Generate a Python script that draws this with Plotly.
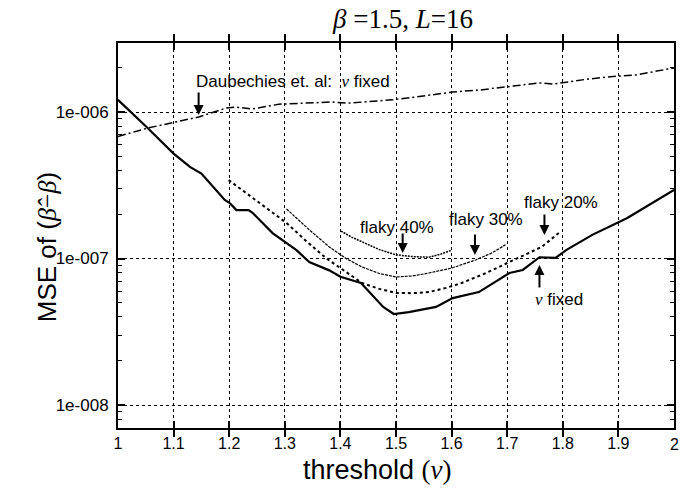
import plotly.graph_objects as go

# ---------------- data ----------------
nu_fixed_x = [1.0, 1.05, 1.10, 1.13, 1.15, 1.192, 1.201, 1.213, 1.235, 1.242, 1.278, 1.299,
              1.321, 1.344, 1.38, 1.40, 1.437, 1.477, 1.496, 1.523, 1.572, 1.602, 1.649,
              1.704, 1.728, 1.758, 1.787, 1.806, 1.853, 1.916, 2.0]
nu_fixed_y = [1.21e-6, 8.0e-7, 5.2e-7, 4.2e-7, 3.8e-7, 2.51e-7, 2.39e-7, 2.14e-7, 2.14e-7,
              2.05e-7, 1.49e-7, 1.30e-7, 1.14e-7, 9.46e-8, 8.3e-8, 7.5e-8, 6.8e-8, 4.67e-8,
              4.18e-8, 4.31e-8, 4.67e-8, 5.37e-8, 5.9e-8, 7.96e-8, 8.35e-8, 1.02e-7, 1.01e-7,
              1.14e-7, 1.45e-7, 1.89e-7, 2.94e-7]

daub_x = [1.0, 1.054, 1.145, 1.195, 1.211, 1.242, 1.289, 1.337, 1.384, 1.414, 1.493, 1.532,
          1.602, 1.649, 1.697, 1.758, 1.783, 1.846, 1.900, 1.932, 2.0]
daub_y = [6.8e-7, 7.78e-7, 9.24e-7, 1.065e-6, 1.08e-6, 1.05e-6, 1.13e-6, 1.15e-6, 1.17e-6,
          1.15e-6, 1.21e-6, 1.26e-6, 1.37e-6, 1.41e-6, 1.48e-6, 1.58e-6, 1.55e-6, 1.68e-6,
          1.76e-6, 1.79e-6, 2.0e-6]

flaky20_x = [1.199, 1.25, 1.303, 1.34, 1.375, 1.40, 1.439, 1.47, 1.50, 1.53, 1.559, 1.59,
             1.618, 1.66, 1.703, 1.762, 1.797]
flaky20_y = [3.43e-7, 2.45e-7, 1.75e-7, 1.3e-7, 1.0e-7, 8.6e-8, 6.8e-8, 6.2e-8, 5.82e-8,
             5.8e-8, 5.9e-8, 6.3e-8, 6.8e-8, 7.9e-8, 9.46e-8, 1.2e-7, 1.54e-7]

flaky30_x = [1.303, 1.344, 1.38, 1.41, 1.439, 1.47, 1.50, 1.53, 1.559, 1.60, 1.643, 1.67, 1.697]
flaky30_y = [2.18e-7, 1.57e-7, 1.2e-7, 1.0e-7, 8.75e-8, 7.9e-8, 7.48e-8, 7.6e-8, 7.96e-8,
             8.6e-8, 9.77e-8, 1.08e-7, 1.24e-7]

flaky40_x = [1.401, 1.42, 1.439, 1.47, 1.50, 1.53, 1.559, 1.58, 1.60]
flaky40_y = [1.54e-7, 1.4e-7, 1.30e-7, 1.15e-7, 1.06e-7, 1.03e-7, 1.02e-7, 1.07e-7, 1.14e-7]

x_ticks = [1.0, 1.1, 1.2, 1.3, 1.4, 1.5, 1.6, 1.7, 1.8, 1.9, 2.0]
x_tick_labels = ["1", "1.1", "1.2", "1.3", "1.4", "1.5", "1.6", "1.7", "1.8", "1.9", "2"]
y_ticks = [1e-8, 1e-7, 1e-6]
y_tick_labels = ["1e-008", "1e-007", "1e-006"]

# ---------------- figure ----------------
SANS = "Liberation Sans, Arial, sans-serif"
SERIF = "Liberation Serif, Times New Roman, serif"
Y_RANGE = [-8.157, -5.529]

fig = go.Figure()
fig.add_trace(go.Scatter(x=daub_x, y=daub_y, mode="lines", yaxis="y2",
                         line=dict(color="black", width=1.5, dash="8px,3px,2px,3px")))
fig.add_trace(go.Scatter(x=flaky40_x, y=flaky40_y, mode="lines",
                         line=dict(color="black", width=1.5, dash="2px,1px")))
fig.add_trace(go.Scatter(x=flaky30_x, y=flaky30_y, mode="lines",
                         line=dict(color="black", width=1.2, dash="3px,1px")))
fig.add_trace(go.Scatter(x=flaky20_x, y=flaky20_y, mode="lines",
                         line=dict(color="black", width=2, dash="3px,3px")))
fig.add_trace(go.Scatter(x=nu_fixed_x, y=nu_fixed_y, mode="lines",
                         line=dict(color="black", width=2.2)))

minor_vals = [m * 10 ** e for e in (-9, -8, -7, -6) for m in range(2, 10)]

fig.update_layout(
    xaxis=dict(range=[1, 2], tickmode="array", tickvals=x_ticks[:-1],
               ticktext=x_tick_labels[:-1],
               ticks="inside", ticklen=7, tickwidth=1.5, tickcolor="black",
               showline=True, linecolor="black", linewidth=2, mirror="allticks",
               showgrid=True, gridcolor="black", gridwidth=1, griddash="dot",
               zeroline=False, tickfont=dict(family=SANS, size=16, color="black")),
    yaxis=dict(type="log", range=Y_RANGE, tickmode="array", tickvals=y_ticks,
               ticktext=y_tick_labels, ticks="inside", ticklen=7, tickwidth=1.5,
               tickcolor="black", showline=True, linecolor="black", linewidth=2,
               mirror="allticks", showgrid=True, gridcolor="black", gridwidth=1,
               griddash="dot", zeroline=False, ticklabelstandoff=4,
               tickfont=dict(family=SANS, size=17, color="black")),
    yaxis2=dict(type="log", range=Y_RANGE, overlaying="y", side="left",
                tickmode="array", tickvals=minor_vals, ticks="inside", ticklen=4,
                tickwidth=1.2, tickcolor="black", showticklabels=False,
                showline=True, linecolor="black", linewidth=2, mirror="allticks",
                showgrid=False, zeroline=False),
)

NU = "<span style='font-family:Liberation Serif'><i>ν</i></span>"
annots = [
    dict(x=1.314, y=-5.795, text="Daubechies et. al:  " + NU + " fixed",
         showarrow=False, font=dict(family=SANS, size=17, color="black")),
    dict(x=1.502, y=-6.785, text="flaky 40%", showarrow=False,
         font=dict(family=SANS, size=17, color="black")),
    dict(x=1.661, y=-6.737, text="flaky 30%", showarrow=False,
         font=dict(family=SANS, size=17, color="black")),
    dict(x=1.796, y=-6.621, text="flaky 20%", showarrow=False,
         font=dict(family=SANS, size=17, color="black")),
    dict(x=1.794, y=-7.283, text=NU + " fixed",
         showarrow=False, font=dict(family=SANS, size=17, color="black")),
]
arrows = [(1.145, -6.020, -24), (1.512, -6.962, -21), (1.642, -6.976, -22),
          (1.767, -6.840, -22), (1.758, -7.044, 24)]
for ax_x, ax_y, off in arrows:
    annots.append(dict(x=ax_x, y=ax_y, ax=0, ay=off, text="", showarrow=True,
                       arrowhead=2, arrowsize=1, arrowwidth=2, arrowcolor="black"))
for a in annots:
    a.setdefault("xref", "x")
    a.setdefault("yref", "y")

# last x tick label (at the right frame edge)
annots.append(dict(xref="x", yref="paper", x=x_ticks[-1], y=-(445 - 428) / 385,
                   yanchor="middle", text=x_tick_labels[-1], showarrow=False,
                   font=dict(family=SANS, size=16, color="black")))

annots.append(dict(xref="paper", yref="paper", x=-0.158, y=0.47, textangle=-90,
                   text="MSE of (<span style='font-family:Liberation Serif'><i>β̂</i>−<i>β</i></span>)",
                   showarrow=False, font=dict(family=SANS, size=26, color="black")))
annots.append(dict(xref="paper", yref="paper", x=(378 - 118) / 558, y=-(470 - 428) / 385,
                   yanchor="middle",
                   text="threshold <span style='font-family:Liberation Serif'>(<i>ν</i>)</span>",
                   showarrow=False, font=dict(family=SANS, size=27, color="black")))

fig.update_layout(
    width=684, height=492,
    margin=dict(l=118, r=8, t=43, b=64),
    paper_bgcolor="white", plot_bgcolor="white",
    showlegend=False,
    title=dict(text="<i>β</i> =1.5, <i>L</i>=16", x=403 / 684, xanchor="center",
               y=1 - 19 / 492, yanchor="middle",
               font=dict(family=SERIF, size=27, color="black")),
    annotations=annots,
)

fig.write_html("out.html", config={"displayModeBar": False},
               post_script="document.body.style.margin='0';document.body.style.overflow='hidden';")
